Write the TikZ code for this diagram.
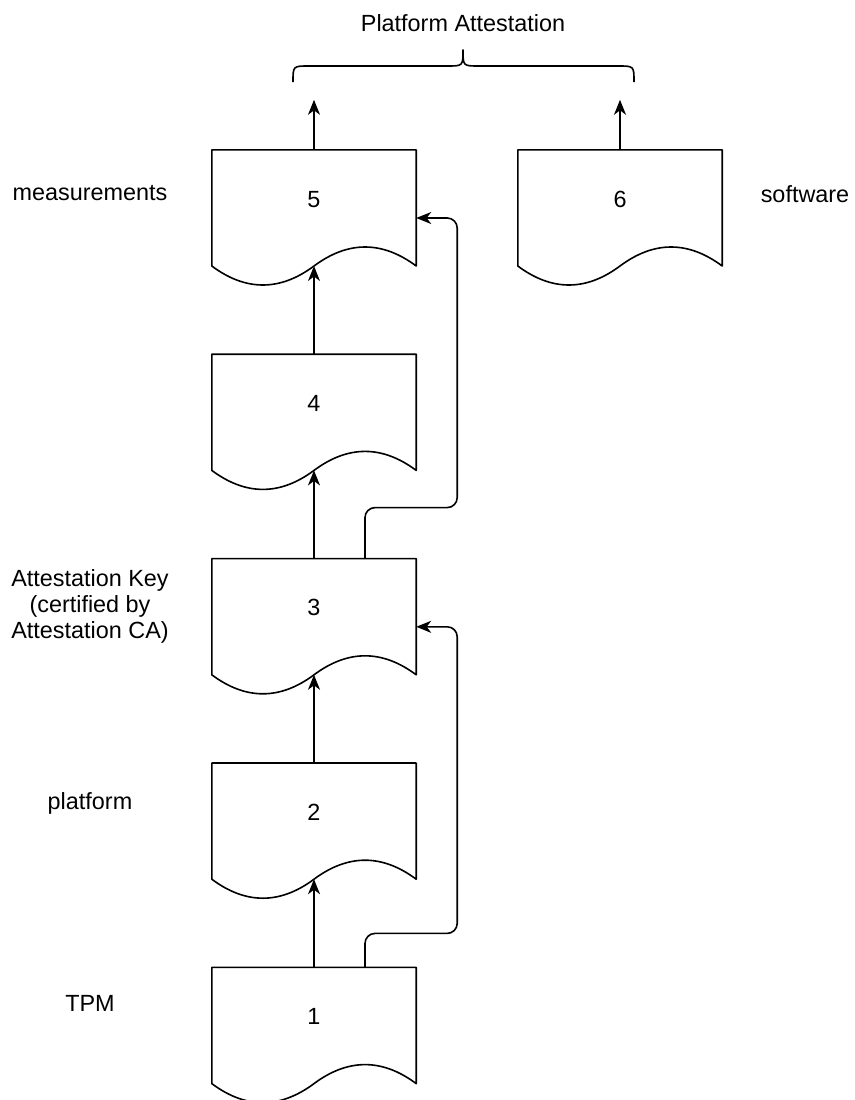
\documentclass[tikz,border=0pt]{standalone}
\usepackage{fontspec}
\setmainfont{Liberation Sans}
\usetikzlibrary{calc,positioning,arrows.meta}
\tikzset{
  docbox/.style={minimum width=204pt, minimum height=136pt, inner sep=0pt, text depth=38pt, font=\fontsize{23.4}{28}\selectfont},
  docline/.style={line width=1.6pt, line join=round},
  arr/.style={line width=1.6pt, -{Stealth[length=15pt,width=12pt,inset=4.5pt]}},
  lbl/.style={align=center, font=\fontsize{23.4}{26}\selectfont}
}
% outline of a document box, with its wavy bottom
\newcommand{\docshape}[1]{%
  \draw[docline] (#1.north west) -- (#1.north east) -- ($(#1.east)+(0,48)$)
    .. controls +(-34,-25.33) and +(34,-25.33) .. ($(#1.center)+(0,48)$)
    .. controls +(-34,25.33) and +(34,25.33) .. ($(#1.west)+(0,48)$) -- cycle;
  \coordinate (#1-wave) at ($(#1.center)+(0,48)$);
}

\begin{document}
\begin{tikzpicture}[x=1pt, y=-1pt]
  \useasboundingbox (0,0) rectangle (854,1100);

  % documents
  \node[docbox] (d5) at (314,218) {5};
  \node[docbox] (d6) at (620,218) {6};
  \node[docbox, below=68pt of d5] (d4) {4};
  \node[docbox, below=68pt of d4] (d3) {3};
  \node[docbox, below=68pt of d3] (d2) {2};
  \node[docbox, below=68pt of d2] (d1) {1};
  \foreach \d in {d1,d2,d3,d4,d5,d6} {\docshape{\d}}

  % labels
  \node[lbl] (lmeas) at (90,193) {measurements};
  \node[lbl] (lsoft) at (805,194) {software};
  \node[lbl] (lkey) at (90,606) {Attestation Key\\(certified by\\Attestation CA)};
  \node[lbl] (lplat) at (90,803) {platform};
  \node[lbl] (ltpm) at (90,1003) {TPM};
  \node[lbl] (ltop) at (463,23) {Platform Attestation};

  % brace
  \draw[docline] (293,82) .. controls (293,66) .. (309,66) -- (447,66)
    .. controls (463,66) .. (463,50) .. controls (463,66) .. (479,66)
    -- (618,66) .. controls (634,66) .. (634,82);

  % connectors
  \coordinate (t5) at ($(d5.north)+(0,-50)$);
  \coordinate (t6) at ($(d6.north)+(0,-50)$);
  \draw[arr] (d5.north) -- (t5);
  \draw[arr] (d6.north) -- (t6);
  \draw[arr] (d4.north) -- (d5-wave);
  \draw[arr] (d3.north) -- (d4-wave);
  \draw[arr] (d2.north) -- (d3-wave);
  \draw[arr] (d1.north) -- (d2-wave);
  \draw[arr, rounded corners=10pt] ([xshift=51pt]d1.north) -- ++(0,-34)
    -| ($(d3.east)+(41,0)$) -- (d3.east);
  \draw[arr, rounded corners=10pt] ([xshift=51pt]d3.north) -- ++(0,-51)
    -| ($(d5.east)+(41,0)$) -- (d5.east);
\end{tikzpicture}
\end{document}
